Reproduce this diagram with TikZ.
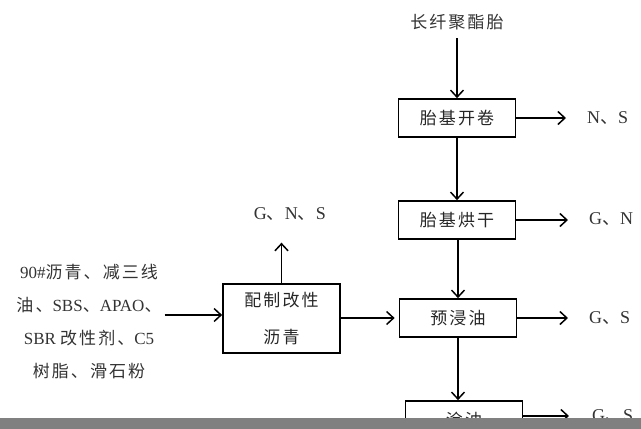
\documentclass[tikz,border=0pt]{standalone}
\usepackage{fontspec}
\setmainfont{Liberation Serif}
\newfontfamily\cjk[LetterSpace=12]{Noto Sans CJK SC}
\usetikzlibrary{arrows.meta}
\begin{document}
\begin{tikzpicture}[x=1pt,y=-1pt,
 box/.style={draw,line width=1.7pt,minimum width=117pt,minimum height=38pt,inner sep=0pt,align=center,text=black!85,font=\cjk\fontsize{17}{37}\selectfont},
 arr/.style={line width=1.5pt,-{Straight Barb[length=7pt,width=13pt,line width=1.5pt]}},
 lbl/.style={inner sep=0pt,text=black!80,font=\fontsize{18}{20}\selectfont},
 src/.style={inner sep=0pt,align=center,text=black!80,font=\fontsize{17}{33}\selectfont}]
\useasboundingbox (0,0) rectangle (641,429);
% process boxes
\node[box] (b1) at (457,118) {胎基开卷};
\node[box] (b2) at (457,220) {胎基烘干};
\node[box] (b3) at (458,318) {预浸油};
\node[box] (b4) at (464,420) {涂油};
\node[box,minimum height=69pt] (b5) at (281.5,318.5) {配制改性\\沥青};
% texts
\node[src] (top) at (457,22) {\cjk 长纤聚酯胎};
\node[src] (raw) at (89,322) {90\#{\cjk 沥青、减三线}\\{\cjk 油、}SBS{\cjk 、}APAO{\cjk 、}\\SBR {\cjk 改性剂、}C5\\{\cjk 树脂、滑石粉}};
\node[lbl,anchor=west] (o1) at (587,118) {N{\cjk 、}S};
\node[lbl,anchor=west] (o2) at (589,219) {G{\cjk 、}N};
\node[lbl,anchor=west] (o3) at (589,318) {G{\cjk 、}S};
\node[lbl,anchor=west] (o4) at (592,416) {G{\cjk 、}S};
\node[lbl] (o5) at (290,214) {G{\cjk 、}N{\cjk 、}S};
% connectors
\draw[arr,shorten <=8pt] (top) -- (b1);
\draw[arr] (b1) -- (b2);
\draw[arr] (b2.south -| b3) -- (b3);
\draw[arr] (b3.south) -- (b3.south |- b4.north);
\draw[arr,shorten >=21pt] (b1.east) -- (o1.west);
\draw[arr,shorten >=21pt] (b2.east) -- (b2.east -| o2.west);
\draw[arr,shorten >=21pt] (b3.east) -- (b3.east -| o3.west);
\draw[arr,shorten >=23pt] (b4.east |- o4.west) -- (o4.west);
\draw[arr,shorten >=22pt] (b5.north) -- (b5.north |- o5.south);
\draw[arr,shorten <=3pt] (raw.east |- 0,315) -- (b5.west |- 0,315);
\draw[arr,shorten >=4pt] (b5.east |- b3.west) -- (b3.west);
% bottom grey band
\fill[gray] (0,418) rectangle (641,429);
\end{tikzpicture}
\end{document}
